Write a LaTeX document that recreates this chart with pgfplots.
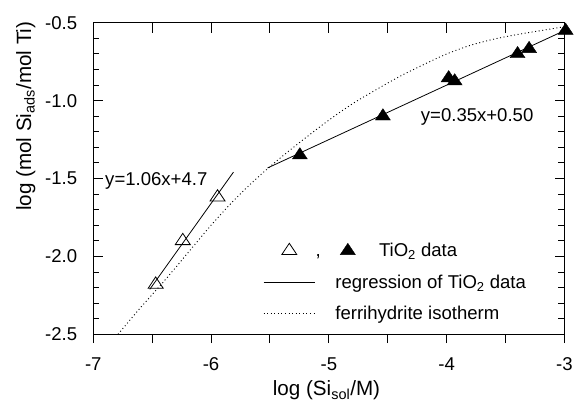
\documentclass[border=0pt]{standalone}
\usepackage{fontspec}
\setmainfont{Liberation Sans}
\usepackage{pgfplots}
\pgfplotsset{compat=1.18}
\usetikzlibrary{calc}
\newcommand{\fntS}{\fontsize{18.7}{22}\selectfont}
\newcommand{\fntL}{\fontsize{20.8}{24}\selectfont}
\begin{document}
\begin{tikzpicture}
\begin{axis}[
  name=main,
  scale only axis, width=475pt, height=314pt,
  xmin=-7, xmax=-3, ymin=-2.5, ymax=-0.5,
  clip=false,
  axis line style={line width=1.2pt},
  xtick={-7,-6.5,...,-3}, xticklabels={},
  xtick pos=right,
  ytick={-2.5,-2.0,-1.5,-1.0,-0.5},
  yticklabels={-2.5,-2.0,-1.5,-1.0,-0.5},
  minor y tick num=4,
  ytick pos=both, yticklabel pos=left,
  tick align=inside,
  major tick length=10pt, minor tick length=6pt,
  tick style={line width=1pt, black},
  yticklabel style={anchor=east, inner sep=0pt, xshift=-16pt, font=\fntS},
  ylabel={log (mol Si\textsubscript{ads}/mol Ti)},
  ylabel style={at={(axis description cs:-0.143,0.70)}, anchor=center, font=\fntL},
  legend style={draw=none, fill=none, at={(axis description cs:0.36,0.299)}, anchor=north west, font=\fntS, inner sep=0pt, row sep=12.5pt, column sep=18pt},
  legend cell align=left,
]
\addplot[forget plot, black, line width=0.9pt, dash pattern=on 1pt off 2.6pt, smooth] coordinates {
(-6.79,-2.50) (-6.60,-2.33) (-6.40,-2.16) (-6.20,-1.98) (-6.00,-1.80)
(-5.80,-1.635) (-5.60,-1.49) (-5.40,-1.36) (-5.20,-1.24) (-5.00,-1.125)
(-4.80,-1.02) (-4.60,-0.93) (-4.40,-0.845) (-4.20,-0.77) (-4.00,-0.70)
(-3.80,-0.645) (-3.60,-0.605) (-3.40,-0.575) (-3.20,-0.55) (-3.00,-0.525)
};
\addplot[forget plot, black, line width=0.8pt] coordinates {(-5.52,-1.432) (-2.99,-0.5465)};
\addplot[forget plot, black, line width=0.8pt] coordinates {(-6.52,-2.211) (-5.81,-1.459)};
\addplot[forget plot, only marks, mark=triangle, mark size=7.6pt, mark options={xscale=1.15, line width=0.8pt, black}] coordinates {
(-6.47,-2.18) (-6.24,-1.90) (-5.945,-1.62)
};
\addplot[forget plot, only marks, mark=triangle*, mark size=7.6pt, mark options={xscale=1.15, black, fill=black}] coordinates {
(-5.246,-1.35) (-4.541,-1.10) (-3.983,-0.855) (-3.932,-0.875) (-3.398,-0.70) (-3.30,-0.667) (-2.99,-0.55)
};
\node[anchor=west, font=\fntS, inner sep=0pt] at (axis cs:-4.22,-1.105) {y=0.35x+0.50};
\node[anchor=west, font=\fntS, inner sep=0pt] at (axis cs:-6.90,-1.515) {y=1.06x+4.7};
% tick marks of the frame
\pgfplotsinvokeforeach{-7,-6.5,-6,-5.5,-5,-4.5,-4,-3.5,-3}{
  \draw[black, line width=1pt] (axis cs:#1,-0.5) -- ++(0pt,-10pt);
  \draw[black, line width=1pt] (axis cs:#1,-2.5) -- ++(0pt,-9pt);
}
\pgfplotsinvokeforeach{-2.5,-2.0,-1.5,-1.0,-0.5}{
  \draw[black, line width=1pt] (axis cs:-7,#1) -- ++(10pt,0pt);
  \draw[black, line width=1pt] (axis cs:-3,#1) -- ++(-10pt,0pt);
}
\pgfplotsinvokeforeach{-2.4,-2.3,-2.2,-2.1,-1.9,-1.8,-1.7,-1.6,-1.4,-1.3,-1.2,-1.1,-0.9,-0.8,-0.7,-0.6}{
  \draw[black, line width=1pt] (axis cs:-7,#1) -- ++(6pt,0pt);
  \draw[black, line width=1pt] (axis cs:-3,#1) -- ++(-6pt,0pt);
}
\addlegendimage{legend image code/.code={
  \draw[black, line width=0.8pt, mark size=7.6pt] plot[mark=triangle, mark options={xscale=1.15}] coordinates {(26pt,0pt)};
  \draw[overlay, black, fill=black, mark size=7.6pt] plot[mark=triangle*, mark options={xscale=1.15}] coordinates {(85pt,0pt)};
  \node[overlay, anchor=base, inner sep=0pt, font=\fntS] at (55pt,-6pt) {,};
  \path (0pt,0pt) (52pt,0pt);
}}
\addlegendentry{\hspace{44pt}TiO\textsubscript{2} data}
\addlegendimage{legend image code/.code={\draw[black, line width=0.8pt] (0pt,0pt) -- (52pt,0pt);}}
\addlegendentry{regression of TiO\textsubscript{2} data}
\addlegendimage{legend image code/.code={\draw[black, line width=0.9pt, dash pattern=on 1pt off 2.6pt] (0pt,0pt) -- (52pt,0pt);}}
\addlegendentry{ferrihydrite isotherm}
\end{axis}
\begin{axis}[
  scale only axis, width=475pt, height=314pt,
  xmin=-7, xmax=-3, ymin=-2.5, ymax=-0.5,
  hide y axis,
  axis x line*=bottom,
  axis line style={line width=1.2pt},
  xtick={-7,-6.5,...,-3},
  xticklabels={-7,,-6,,-5,,-4,,-3},
  tick align=outside, major tick length=9pt,
  tick style={line width=1pt, black},
  xticklabel style={font=\fntS, anchor=base, yshift=-27pt},
  xlabel={log (Si\textsubscript{sol}/M)},
  xlabel style={at={(axis description cs:0.495,0)}, anchor=base, yshift=-62pt, font=\fntL},
]
\end{axis}
\path ($(main.south west)+(-94pt,-65pt)$) rectangle ($(main.north east)+(7pt,23pt)$);
\end{tikzpicture}
\end{document}
